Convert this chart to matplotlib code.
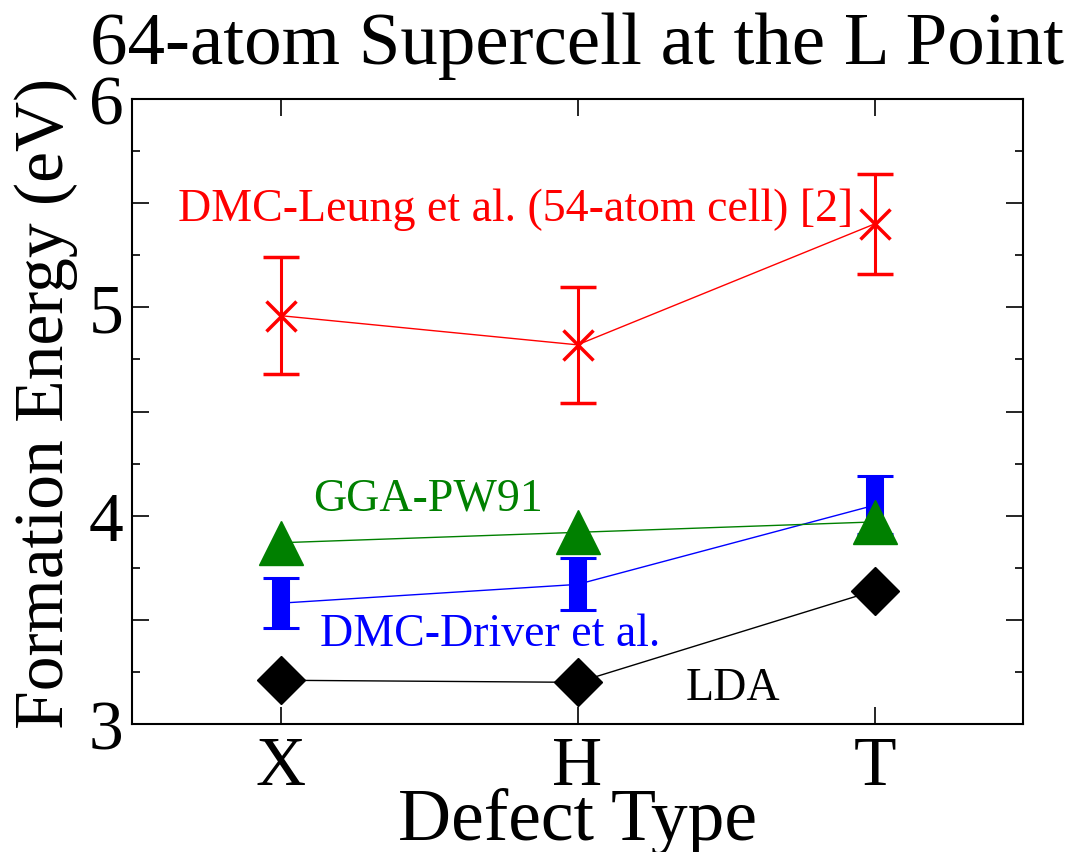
import numpy as np
import matplotlib
matplotlib.use('Agg')
import matplotlib.pyplot as plt

## Data
defects = ['X', 'H', 'T']

# DMC-Leung et al. (54-atom cell)
leung = [4.96, 4.82, 5.40]
leung_err = [0.28, 0.28, 0.24]

# GGA-PW91
gga = [3.87, 3.92, 3.97]

# DMC-Driver et al.
driver = [3.58, 3.67, 4.05]
driver_err = [0.12, 0.125, 0.14]

# LDA
lda = [3.21, 3.20, 3.64]

## Plot
plt.rcParams['font.family'] = ['Liberation Serif', 'DejaVu Serif']

fig = plt.figure(figsize=(10.75, 8.53), dpi=100)
ax = fig.add_axes([132/1075, 1-725/853, 891/1075, 625/853])

x = np.arange(1, len(defects)+1)

ax.errorbar(x, leung, yerr=leung_err, fmt='-', color='red', lw=1.0,
            marker='x', ms=22, mew=2.5, elinewidth=2.2, capsize=13, capthick=2.2, zorder=3)
ax.errorbar(x, driver, yerr=driver_err, fmt='-', color='blue', lw=1.0,
            elinewidth=13, capsize=13, capthick=2.2, zorder=3)
ax.plot(x, gga, '-', color='green', lw=1.0, marker='^', ms=32, zorder=4)
ax.plot(x, lda, '-', color='black', lw=1.0, marker='D', ms=24, zorder=4)

# labels inside the plot
ax.text(0.655, 5.475, 'DMC-Leung et al. (54-atom cell) [2]', color='red', fontsize=33, va='center', ha='left')
ax.text(1.109, 4.085, 'GGA-PW91', color='green', fontsize=33, va='center', ha='left')
ax.text(1.133, 3.435, 'DMC-Driver et al.', color='blue', fontsize=33, va='center', ha='left')
ax.text(2.365, 3.175, 'LDA', color='black', fontsize=33, va='center', ha='left')

ax.set_xlim(0.5, 3.5)
ax.set_ylim(3, 6)
ax.set_xticks(x, defects)
ax.set_yticks(np.arange(3, 6.01, 0.5), ['3', '', '4', '', '5', '', '6'])
ax.set_yticks(np.arange(3, 6.01, 0.25), minor=True)
ax.tick_params(axis='both', which='major', direction='in', length=12, width=1.2,
               top=True, right=True, labelsize=50, pad=6)
ax.tick_params(axis='x', which='major', pad=8)
ax.tick_params(axis='y', which='minor', direction='in', length=6, width=1.2, right=True)
ax.tick_params(axis='x', which='minor', bottom=False, top=False)
for sp in ax.spines.values():
    sp.set_linewidth(1.5)

ax.set_xlabel('Defect Type', fontsize=53, labelpad=-8)
ax.set_ylabel('Formation Energy (eV)', fontsize=50)
ax.yaxis.set_label_coords(-0.061, 0.515)
ax.set_title('64-atom Supercell at the L Point', fontsize=54, pad=26)

fig.savefig('out.png', dpi=100)
